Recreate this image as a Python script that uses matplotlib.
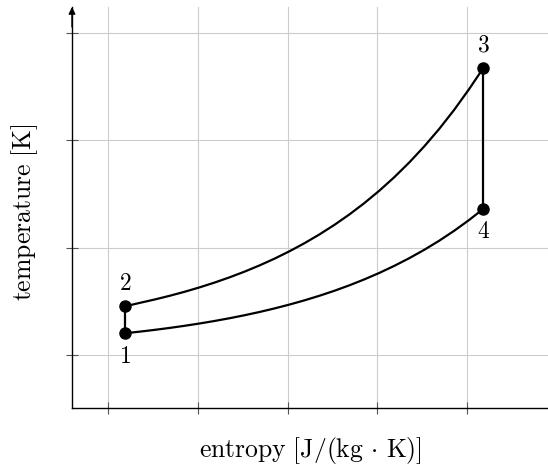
import matplotlib
matplotlib.use("Agg")
import matplotlib.pyplot as plt

plt.rcParams['mathtext.fontset'] = 'cm'
plt.rcParams['font.family'] = 'DejaVu Serif'

# State points (entropy, temperature)
point_labels = ['1', '2', '3', '4']
point_s = [1.189, 1.189, 5.178, 5.178]
point_T = [1.202, 1.453, 3.671, 2.360]

# Entropy samples shared by both curves
curve_s = [1.1889, 1.3556, 1.5222, 1.6889, 1.8556, 2.0222, 2.1889, 2.3556, 2.5222,
           2.6889, 2.8556, 3.0222, 3.1889, 3.3556, 3.5222, 3.6889, 3.8556, 4.0222,
           4.1889, 4.3556, 4.5222, 4.6889, 4.8556, 5.0222, 5.1778]

# Upper curve 2 -> 3
upper_T = [1.453, 1.4856, 1.5172, 1.5517, 1.5893, 1.6303, 1.6750, 1.7237, 1.7768,
           1.8347, 1.8977, 1.9666, 2.0416, 2.1233, 2.2124, 2.3095, 2.4155, 2.5308,
           2.6567, 2.7938, 2.9434, 3.1063, 3.2841, 3.4778, 3.671]

# Lower curve 1 -> 4
lower_T = [1.2022, 1.2175, 1.2341, 1.2522, 1.2721, 1.2936, 1.3170, 1.3426, 1.3704,
           1.4007, 1.4338, 1.4699, 1.5091, 1.5519, 1.5983, 1.6491, 1.7045, 1.7647,
           1.8304, 1.9019, 1.9798, 2.0647, 2.1572, 2.2580, 2.3601]

x_ticks = [1, 2, 3, 4, 5]
y_ticks = [1, 2, 3, 4]

W, H = 548, 472
fig = plt.figure(figsize=(W / 100, H / 100), dpi=100)
ax = fig.add_axes([72 / W, 64 / H, (W - 72) / W, (408 - 7) / H])

ax.set_xlim(0.6, 5.9)
ax.set_ylim(0.506, 4.242)
ax.set_xticks(x_ticks)
ax.set_yticks(y_ticks)
ax.set_xticklabels([])
ax.set_yticklabels([])
ax.tick_params(direction='inout', length=9, width=0.8, color='#555555')
ax.grid(True, color='#cccccc', linewidth=0.8)
ax.set_axisbelow(True)

for side in ['top', 'right']:
    ax.spines[side].set_visible(False)
for side in ['left', 'bottom']:
    ax.spines[side].set_linewidth(1.0)

# y axis arrow
ax.annotate('', xy=(0, 1.0), xycoords='axes fraction', xytext=(0, 0.95),
            textcoords='axes fraction',
            arrowprops=dict(arrowstyle='-|>', color='black', lw=1.0,
                            mutation_scale=10, shrinkA=0, shrinkB=0))

lw = 1.6
ax.plot([point_s[0], point_s[1]], [point_T[0], point_T[1]], color='black', lw=lw)
ax.plot(curve_s, upper_T, color='black', lw=lw, solid_capstyle='round', solid_joinstyle='round')
ax.plot([point_s[2], point_s[3]], [point_T[2], point_T[3]], color='black', lw=lw)
ax.plot(curve_s, lower_T, color='black', lw=lw, solid_capstyle='round', solid_joinstyle='round')
ax.plot(point_s, point_T, 'o', color='black', markersize=8, zorder=5)

offsets = [(0, -16.5), (0, 16.5), (0, 16.5), (0, -16.5)]
for lab, s, T, off in zip(point_labels, point_s, point_T, offsets):
    ax.annotate(r'$%s$' % lab, xy=(s, T), xytext=off, textcoords='offset points',
                ha='center', va='center', fontsize=17)

fig.text((72 + 548) / 2 / W, 1 - 450 / H,
         r'$\mathrm{entropy}\ [\mathrm{J}/(\mathrm{kg}\,\cdot\,\mathrm{K})]$',
         ha='center', va='center', fontsize=18.5)
fig.text(25 / W, 1 - 212 / H, r'$\mathrm{temperature}\ [\mathrm{K}]$',
         ha='center', va='center', rotation=90, fontsize=18.5)

fig.savefig('out.png', dpi=100)
